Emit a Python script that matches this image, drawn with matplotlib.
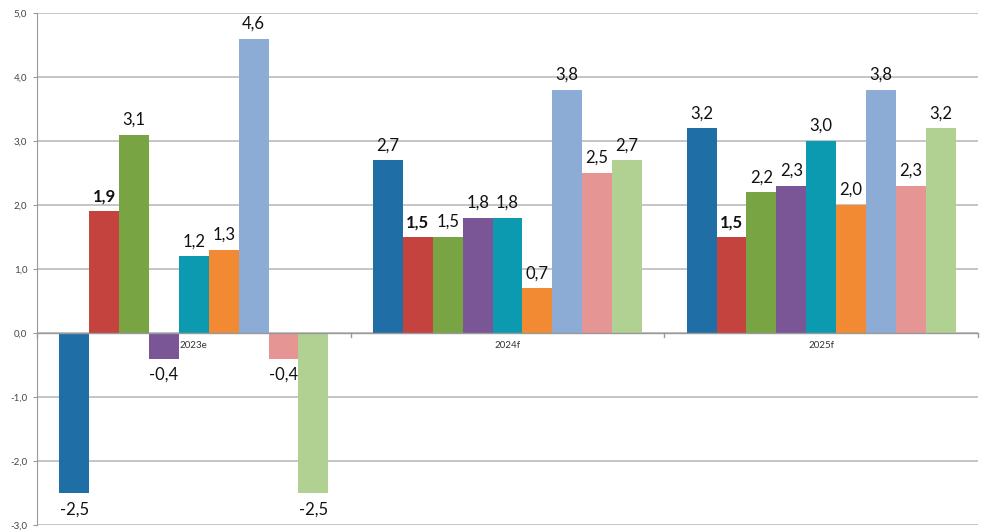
import numpy as np
import matplotlib
matplotlib.use('Agg')
import matplotlib.pyplot as plt

plt.rcParams['font.family'] = ['Lato', 'DejaVu Sans']

categories = ['2023e', '2024f', '2025f']
s1 = [-2.5, 2.7, 3.2]
s2 = [1.9, 1.5, 1.5]
s3 = [3.1, 1.5, 2.2]
s4 = [-0.4, 1.8, 2.3]
s5 = [1.2, 1.8, 3.0]
s6 = [1.3, 0.7, 2.0]
s7 = [4.6, 3.8, 3.8]
s8 = [-0.4, 2.5, 2.3]
s9 = [-2.5, 2.7, 3.2]
series = [s1, s2, s3, s4, s5, s6, s7, s8, s9]
colors = ['#1F6FA6', '#C4433F', '#79A443', '#7A5696', '#0B9AB0',
          '#F28933', '#8CACD6', '#E59593', '#B1D192']
bold = [False, True, False, False, False, False, False, False, False]
yticks = [-3, -2, -1, 0, 1, 2, 3, 4, 5]

fig = plt.figure(figsize=(9.92, 5.32), dpi=100)
ax = fig.add_axes([37 / 992, 7 / 532, 941 / 992, 512 / 532])

n = len(series)
x = np.arange(len(categories))
group_w = 0.857
bw = group_w / n

for i, vals in enumerate(series):
    pos = x - group_w / 2 + bw * (i + 0.5)
    ax.bar(pos, vals, width=bw, color=colors[i], zorder=3)
    for px, v in zip(pos, vals):
        lab = f'{v:.1f}'.replace('.', ',')
        if v >= 0:
            ax.annotate(lab, (px, v), xytext=(0, 5), textcoords='offset points',
                        ha='center', va='bottom', fontsize=12,
                        fontweight='bold' if bold[i] else 'normal', color='#111111')
        else:
            ax.annotate(lab, (px, v), xytext=(0, -6), textcoords='offset points',
                        ha='center', va='top', fontsize=12,
                        fontweight='bold' if bold[i] else 'normal', color='#111111')

ax.set_xlim(-0.5, len(categories) - 0.5)
ax.set_ylim(-3, 5)
ax.set_yticks(yticks)
ax.set_yticklabels([f'{t:.1f}'.replace('.', ',') for t in yticks], fontsize=7, color='#444444')
ax.yaxis.grid(True, color='#BBBBBB', linewidth=1.2, zorder=0)
ax.set_xticks([])
ax.tick_params(axis='y', length=3, color='#999999', pad=4)

for s in ['top', 'right', 'bottom']:
    ax.spines[s].set_visible(False)
ax.spines['left'].set_color('#999999')

# category axis at zero
ax.axhline(0, color='#999999', linewidth=1.0, zorder=4)
for b in np.arange(-0.5, len(categories)):
    ax.plot([b, b], [0, -0.06], color='#999999', linewidth=1.0, zorder=4, clip_on=False)
for xi, c in zip(x, categories):
    ax.annotate(c, (xi, 0), xytext=(0, -9), textcoords='offset points',
                ha='center', va='center', fontsize=7, color='#333333', zorder=5)

fig.savefig('out.png', dpi=100)
